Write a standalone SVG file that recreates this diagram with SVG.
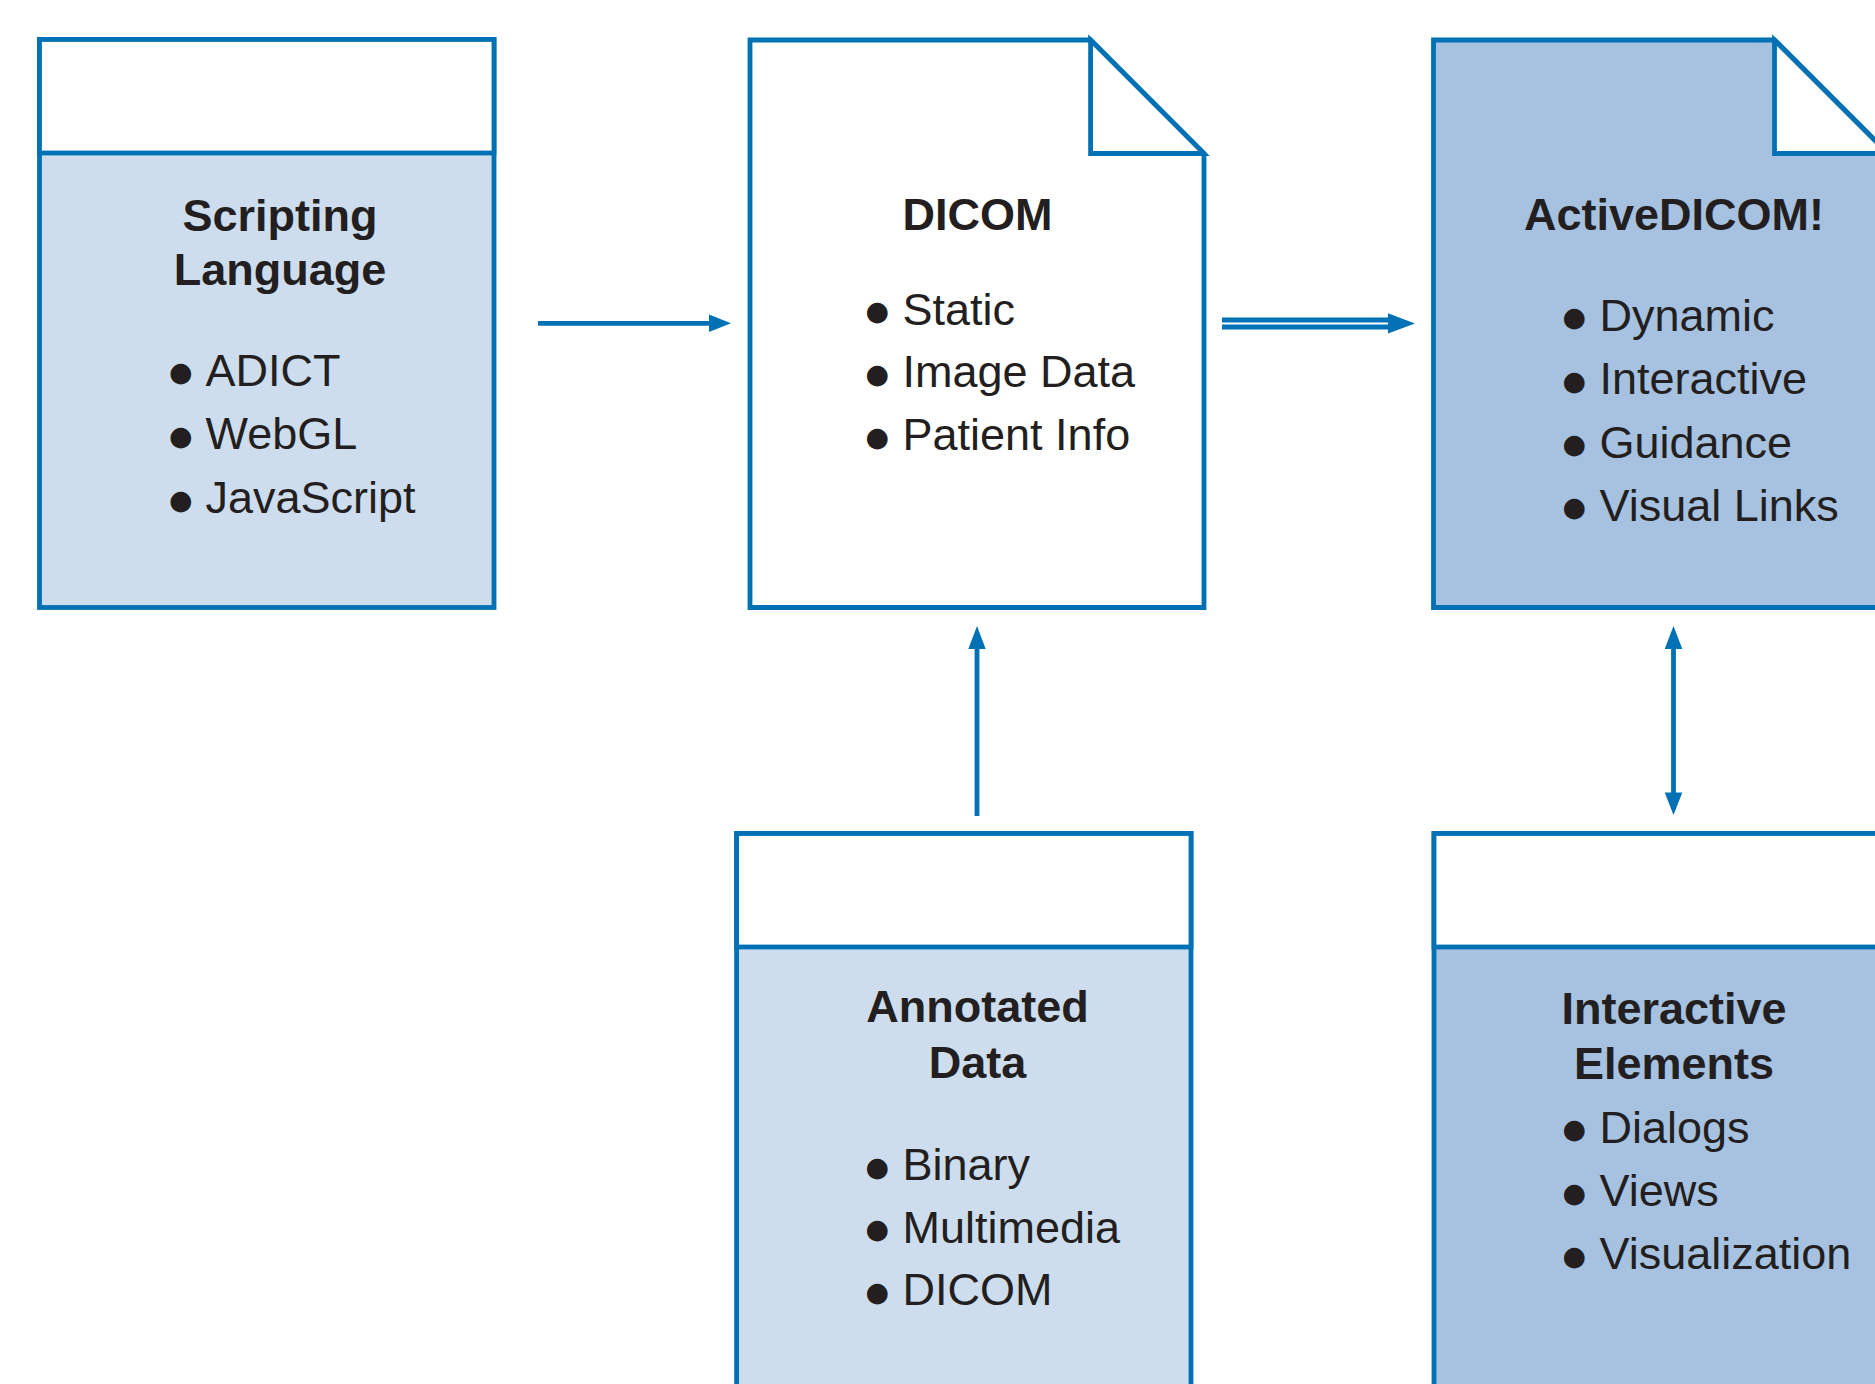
<svg xmlns="http://www.w3.org/2000/svg" width="1875" height="1384" viewBox="0 0 1875 1384">
<style>
.box{stroke:#0071B5;stroke-width:4.8;stroke-linejoin:miter}
.light{fill:#CEDDED}
.dark{fill:#A6C2E0}
.white{fill:#FFFFFF}
.t{font-family:"Liberation Sans",Arial,sans-serif;font-size:45px;fill:#231F20}
.h{font-weight:bold;text-anchor:middle}
.b{font-family:"DejaVu Sans",sans-serif;font-size:27px}
.conn{stroke:#0071B5;stroke-width:4.8;fill:none}
.head{fill:#0071B5}
</style>
<rect width="1875" height="1384" fill="#FFFFFF"/>
<g id="scripting-language">
<rect class="box light" x="39.5" y="39.5" width="454.5" height="568"/>
<rect class="box white" x="39.5" y="39.5" width="454.5" height="113.5"/>
<text class="t h" x="280" y="230.5">Scripting</text>
<text class="t h" x="280" y="284.5">Language</text>
<text class="t"><tspan class="b" x="169" y="381">●</tspan><tspan x="205.5" y="385.5">ADICT</tspan></text>
<text class="t"><tspan class="b" x="169" y="444.5">●</tspan><tspan x="205.5" y="449">WebGL</tspan></text>
<text class="t"><tspan class="b" x="169" y="508.5">●</tspan><tspan x="205.5" y="513">JavaScript</tspan></text>
</g>
<g id="dicom">
<path class="box white" d="M750,40 H1090.6 L1204,153.5 V607.5 H750 Z"/>
<path class="box white" d="M1090.6,40 V153.5 H1204 Z"/>
<text class="t h" x="977.5" y="229.8">DICOM</text>
<text class="t"><tspan class="b" x="865.5" y="320">●</tspan><tspan x="902.5" y="324.5">Static</tspan></text>
<text class="t"><tspan class="b" x="865.5" y="382.5">●</tspan><tspan x="902.5" y="387">Image Data</tspan></text>
<text class="t"><tspan class="b" x="865.5" y="445.5">●</tspan><tspan x="902.5" y="450">Patient Info</tspan></text>
</g>
<g id="activedicom">
<path class="box dark" d="M1433.5,40 H1774.5 L1888,153.5 V607.5 H1433.5 Z"/>
<path class="box white" d="M1774.5,40 V153.5 H1888 Z"/>
<text class="t h" x="1674" y="229.8">ActiveDICOM!</text>
<text class="t"><tspan class="b" x="1562.5" y="326">●</tspan><tspan x="1599.5" y="330.5">Dynamic</tspan></text>
<text class="t"><tspan class="b" x="1562.5" y="389.5">●</tspan><tspan x="1599.5" y="394">Interactive</tspan></text>
<text class="t"><tspan class="b" x="1562.5" y="453">●</tspan><tspan x="1599.5" y="457.5">Guidance</tspan></text>
<text class="t"><tspan class="b" x="1562.5" y="516">●</tspan><tspan x="1599.5" y="520.5">Visual Links</tspan></text>
</g>
<g id="annotated-data">
<rect class="box light" x="736.6" y="833.5" width="454.4" height="600"/>
<rect class="box white" x="736.6" y="833.5" width="454.4" height="113.5"/>
<text class="t h" x="977.5" y="1021.5">Annotated</text>
<text class="t h" x="977.5" y="1077.5">Data</text>
<text class="t"><tspan class="b" x="865.5" y="1175.5">●</tspan><tspan x="902.5" y="1180">Binary</tspan></text>
<text class="t"><tspan class="b" x="865.5" y="1238">●</tspan><tspan x="902.5" y="1242.5">Multimedia</tspan></text>
<text class="t"><tspan class="b" x="865.5" y="1300.5">●</tspan><tspan x="902.5" y="1305">DICOM</tspan></text>
</g>
<g id="interactive-elements">
<rect class="box dark" x="1434" y="833.5" width="454" height="600"/>
<rect class="box white" x="1434" y="833.5" width="454" height="113.5"/>
<text class="t h" x="1674" y="1023.5">Interactive</text>
<text class="t h" x="1674" y="1079">Elements</text>
<text class="t"><tspan class="b" x="1562.5" y="1138">●</tspan><tspan x="1599.5" y="1142.5">Dialogs</tspan></text>
<text class="t"><tspan class="b" x="1562.5" y="1201.5">●</tspan><tspan x="1599.5" y="1206">Views</tspan></text>
<text class="t"><tspan class="b" x="1562.5" y="1264.5">●</tspan><tspan x="1599.5" y="1269">Visualization</tspan></text>
</g>
<g id="connectors">
<line class="conn" x1="538" y1="323.3" x2="712" y2="323.3"/>
<polygon class="head" points="709,314.5 731,323.3 709,332"/>
<line class="conn" x1="1222" y1="320" x2="1392" y2="320" stroke-width="4.4"/>
<line class="conn" x1="1222" y1="327" x2="1392" y2="327" stroke-width="4.4"/>
<polygon class="head" points="1388,313.3 1415,323.5 1388,333.5"/>
<line class="conn" x1="977" y1="816" x2="977" y2="646"/>
<polygon class="head" points="968.3,649 977,626 985.7,649"/>
<line class="conn" x1="1673.5" y1="646" x2="1673.5" y2="795"/>
<polygon class="head" points="1664.7,649 1673.5,626 1682.3,649"/>
<polygon class="head" points="1664.7,792.5 1673.5,815 1682.3,792.5"/>
</g>
</svg>
